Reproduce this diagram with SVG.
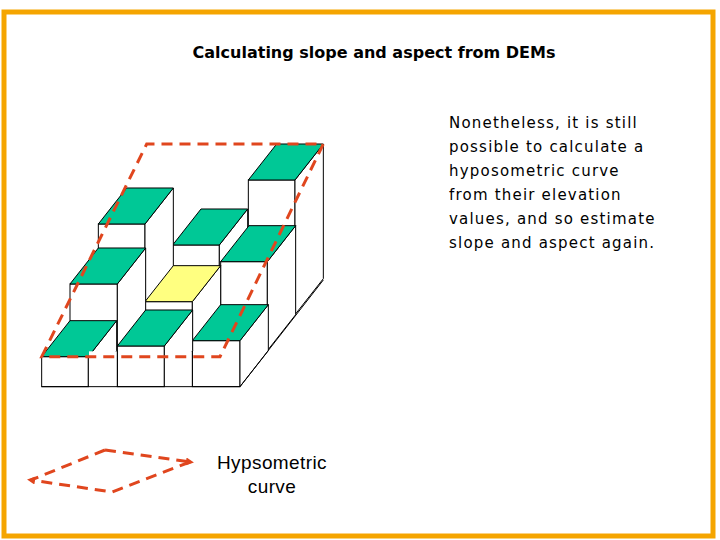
<svg xmlns="http://www.w3.org/2000/svg" width="720" height="540" viewBox="0 0 720 540">
<style>
.f{fill:#fff;stroke:#000;stroke-width:3}
.g{fill:#00c896;stroke:#000;stroke-width:3}
.y{fill:#ffff80;stroke:#000;stroke-width:3}
.d{fill:none;stroke:#e0461e;stroke-width:3;stroke-dasharray:11 7}
.t{font-family:"DejaVu Sans",sans-serif;font-size:15px;letter-spacing:1.2px;fill:#000}
</style>
<defs>
<marker id="ah" markerWidth="8" markerHeight="8" refX="4" refY="4" orient="auto" markerUnits="userSpaceOnUse"><path d="M0,0L8,4L0,8z" fill="#e0461e"/></marker>
</defs>
<rect width="720" height="540" fill="#fff"/>
<rect x="4" y="12" width="709" height="524" fill="none" stroke="#f5a500" stroke-width="5"/>
<text x="374" y="58" text-anchor="middle" style="font-family:'DejaVu Sans',sans-serif;font-size:16px;font-weight:bold">Calculating slope and aspect from DEMs</text>
<g id="desc" class="t">
<text x="449" y="128">Nonetheless, it is still</text>
<text x="449" y="152">possible to calculate a</text>
<text x="449" y="176">hyposometric curve</text>
<text x="449" y="200">from their elevation</text>
<text x="449" y="224">values, and so estimate</text>
<text x="449" y="248">slope and aspect again.</text>
</g>
<g id="blocks" transform="translate(30,130) scale(0.33333)">
<g id="r2c2"><rect class="f" x="655" y="150" width="140" height="404"/><polygon class="f" points="795,150 880,42 880,446 795,554"/><polygon class="g" points="655,150 795,150 880,42 740,42"/></g>
<g id="r2c1"><rect class="f" x="428" y="345" width="140" height="209"/><polygon class="f" points="568,345 653,237 653,446 568,554"/><polygon class="g" points="428,345 568,345 653,237 513,237"/></g>
<g id="r2c0"><rect class="f" x="205" y="282" width="140" height="272"/><polygon class="f" points="345,282 430,174 430,446 345,554"/><polygon class="g" points="205,282 345,282 430,174 290,174"/></g>
<g id="r1c2"><rect class="f" x="572" y="395" width="140" height="267"/><polygon class="f" points="712,395 797,287 797,554 712,662"/><polygon class="g" points="572,395 712,395 797,287 657,287"/></g>
<g id="r1c1"><rect class="f" x="345" y="515" width="142" height="147"/><polygon class="f" points="487,515 572,407 572,554 487,662"/><polygon class="y" points="345,515 487,515 572,407 430,407"/></g>
<g id="r1c0"><rect class="f" x="120" y="462" width="142" height="200"/><polygon class="f" points="262,462 347,354 347,554 262,662"/><polygon class="g" points="120,462 262,462 347,354 205,354"/></g>
<g id="r0c2"><rect class="f" x="487" y="632" width="143" height="138"/><polygon class="f" points="630,632 715,524 715,662 630,770"/><polygon class="g" points="487,632 630,632 715,524 572,524"/></g>
<g id="r0c1"><rect class="f" x="262" y="648" width="141" height="122"/><polygon class="f" points="403,648 488,540 488,662 403,770"/><polygon class="g" points="262,648 403,648 488,540 347,540"/></g>
<g id="r0c0"><rect class="f" x="35" y="680" width="140" height="90"/><polygon class="f" points="175,680 260,572 260,662 175,770"/><polygon class="g" points="35,680 175,680 260,572 120,572"/></g>
<rect x="177" y="664" width="83" height="104" fill="#fff"/>
<rect x="405" y="664" width="81" height="104" fill="#fff"/>
<path d="M262,662V770M487,662V770M35,770H630M630,770L880,450" stroke="#000" stroke-width="3" fill="none"/>
</g>
<g id="connectors">
<polygon class="d" points="41.7,356.7 146.7,144 323.3,144 220,356.7"/>
<path class="d" d="M105,450 L190,462" marker-end="url(#ah)"/>
<path class="d" d="M190,462 L112,492 L31,480" marker-end="url(#ah)"/>
<path class="d" d="M105,450 L31,480"/>
</g>
<g id="legend" style="font-family:'Liberation Sans',sans-serif;font-size:19px;letter-spacing:0.4px" text-anchor="middle">
<text x="272" y="469">Hypsometric</text>
<text x="272" y="493">curve</text>
</g>
</svg>
